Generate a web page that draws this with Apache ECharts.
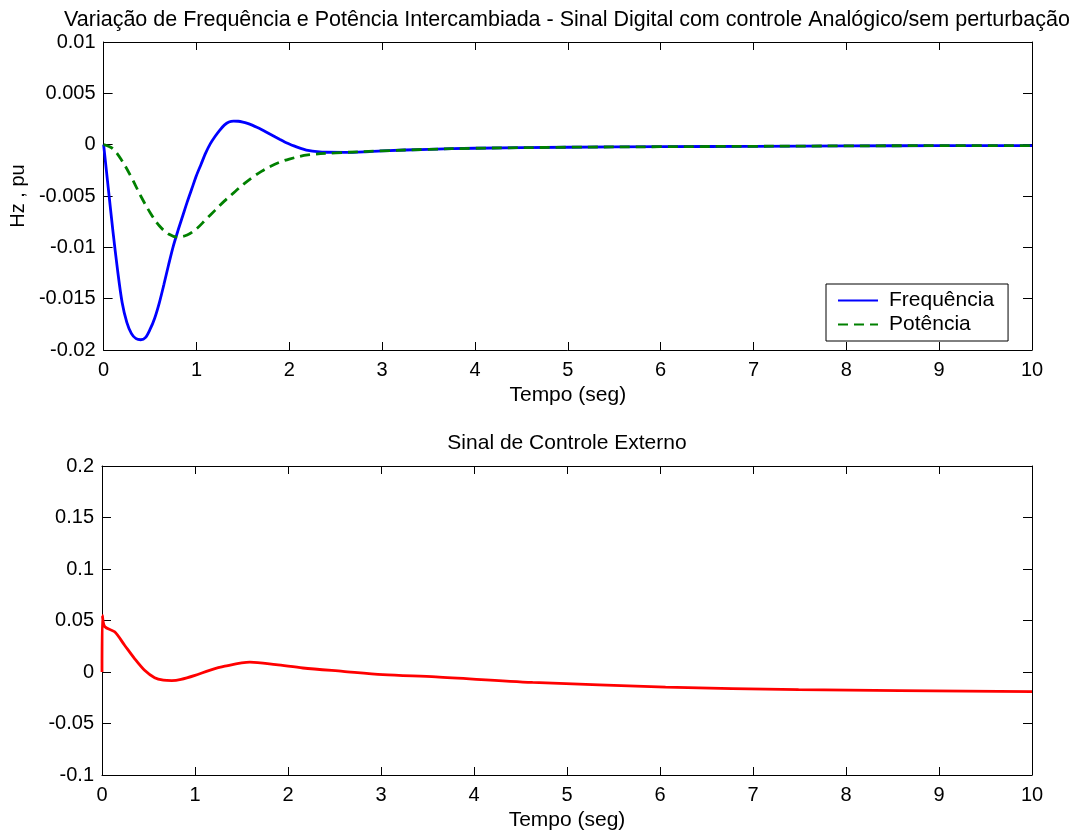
<!DOCTYPE html>
<html>
<head>
<meta charset="utf-8">
<script src="https://cdn.jsdelivr.net/npm/echarts@6/dist/echarts.min.js"></script>
<style>html,body{margin:0;padding:0;background:#fff}#c{width:1080px;height:834px}</style>
</head>
<body>
<div id="c"></div>
<script>
// ---- data ----
const tFreq = [0, 0.05, 0.10, 0.15, 0.20, 0.25, 0.30, 0.35, 0.40, 0.45, 0.50, 0.55, 0.60, 0.65, 0.70, 0.75, 0.80, 0.85, 0.90, 0.95, 1.00, 1.05, 1.10, 1.15, 1.20, 1.25, 1.30, 1.35, 1.40, 1.45, 1.50, 1.55, 1.60, 1.65, 1.70, 1.75, 1.80, 1.85, 1.90, 1.95, 2.00, 2.05, 2.10, 2.15, 2.20, 2.30, 2.40, 2.60, 2.80, 3.0, 3.5, 4, 5, 6, 7, 8, 9, 10];
const vFreq = [0, -0.0042, -0.0084, -0.0122, -0.0154, -0.0173, -0.0184, -0.0189, -0.0190, -0.0188, -0.0180, -0.0169, -0.0154, -0.0136, -0.0117, -0.0099, -0.0084, -0.0070, -0.0056, -0.0043, -0.0030, -0.0019, -0.0008, 0.0001, 0.0008, 0.0014, 0.0019, 0.0022, 0.00229, 0.00228, 0.00220, 0.00207, 0.00190, 0.00170, 0.00148, 0.00124, 0.00099, 0.00074, 0.00050, 0.00027, 0.00007, -0.00012, -0.00029, -0.00043, -0.00055, -0.00068, -0.00074, -0.00075, -0.0007, -0.0006, -0.00045, -0.00035, -0.00025, -0.0002, -0.00016, -0.00012, -0.0001, -0.0001];

const tPot = [0, 0.1, 0.2, 0.3, 0.4, 0.5, 0.6, 0.7, 0.8, 0.9, 1.0, 1.1, 1.2, 1.3, 1.4, 1.5, 1.6, 1.7, 1.8, 1.9, 2.0, 2.2, 2.5, 3.0, 3.5, 4, 5, 6, 7, 8, 9, 10];
const vPot = [0, -0.0004, -0.0016, -0.0032, -0.0050, -0.0066, -0.0079, -0.0087, -0.0090, -0.0088, -0.0082, -0.0073, -0.0064, -0.0055, -0.0047, -0.0039, -0.0032, -0.0026, -0.0021, -0.0017, -0.0014, -0.0010, -0.0008, -0.0006, -0.00045, -0.00035, -0.00025, -0.0002, -0.00016, -0.00012, -0.0001, -0.0001];

const tCtrl = [0, 0.004, 0.03, 0.136, 0.243, 0.35, 0.458, 0.566, 0.66, 0.75, 0.85, 1.0, 1.156, 1.32, 1.59, 1.87, 2.16, 2.59, 3.02, 3.59, 4.63, 6.06, 7.49, 10];
const vCtrl = [0, 0.055, 0.044, 0.039, 0.026, 0.013, 0.0016, -0.0056, -0.0080, -0.0084, -0.0072, -0.0033, 0.0016, 0.0056, 0.0095, 0.0071, 0.0039, 0.0006, -0.0026, -0.0048, -0.0101, -0.0146, -0.0172, -0.0191];

const xTicks = [0, 1, 2, 3, 4, 5, 6, 7, 8, 9, 10];
const yTicksTop = [-0.02, -0.015, -0.01, -0.005, 0, 0.005, 0.01];
const yTicksBottom = [-0.1, -0.05, 0, 0.05, 0.1, 0.15, 0.2];

const seriesNames = ['Frequência', 'Potência', 'Sinal de Controle Externo'];
const mainTitle = 'Variação de Frequência e Potência Intercambiada - Sinal Digital com controle Analógico/sem perturbação';
const subTitle = 'Sinal de Controle Externo';
const xName = 'Tempo (seg)';
const yName = 'Hz , pu';

// ---- chart ----
const FONT = '"Liberation Sans", Arial, sans-serif';
const pairs = (t, v) => t.map((x, i) => [x, v[i]]);
const fmt = v => String(+(+v).toFixed(4));

function xAxisPair(gi) {
  return [
    {
      type: 'value', gridIndex: gi, position: 'bottom',
      min: xTicks[0], max: xTicks[xTicks.length - 1], interval: xTicks[1] - xTicks[0],
      name: xName, nameLocation: 'middle', nameGap: 35,
      nameTextStyle: { fontFamily: FONT, fontSize: 21, color: '#000' },
      axisLine: { show: true, onZero: false, lineStyle: { color: '#000', width: 1 } },
      axisTick: { show: true, inside: true, length: 8, lineStyle: { color: '#000' } },
      axisLabel: { fontFamily: FONT, fontSize: 20, color: '#000', margin: 10, formatter: fmt },
      splitLine: { show: false }
    },
    {
      type: 'value', gridIndex: gi, position: 'top',
      min: xTicks[0], max: xTicks[xTicks.length - 1], interval: xTicks[1] - xTicks[0],
      axisLine: { show: true, onZero: false, lineStyle: { color: '#000', width: 1 } },
      axisTick: { show: true, inside: true, length: 8, lineStyle: { color: '#000' } },
      axisLabel: { show: false }, splitLine: { show: false }
    }
  ];
}
function yAxisPair(gi, ticks, name) {
  const base = {
    type: 'value', gridIndex: gi,
    min: ticks[0], max: ticks[ticks.length - 1], interval: +(ticks[1] - ticks[0]).toFixed(6),
    splitLine: { show: false }
  };
  return [
    Object.assign({}, base, {
      position: 'left',
      name: name || '', nameLocation: 'middle', nameGap: 67, nameRotate: 90,
      nameTextStyle: { fontFamily: FONT, fontSize: 20, color: '#000' },
      axisLine: { show: true, onZero: false, lineStyle: { color: '#000', width: 1 } },
      axisTick: { show: true, inside: true, length: 9, lineStyle: { color: '#000' } },
      axisLabel: { fontFamily: FONT, fontSize: 20, color: '#000', margin: 8, formatter: fmt }
    }),
    Object.assign({}, base, {
      position: 'right',
      axisLine: { show: true, onZero: false, lineStyle: { color: '#000', width: 1 } },
      axisTick: { show: true, inside: true, length: 9, lineStyle: { color: '#000' } },
      axisLabel: { show: false }
    })
  ];
}

const chart = echarts.init(document.getElementById('c'), null, { renderer: 'canvas' });
chart.setOption({
  backgroundColor: '#fff',
  animation: false,
  grid: [
    { left: 102, top: 42, width: 930, height: 308 },
    { left: 102, top: 466, width: 930, height: 309 }
  ],
  xAxis: [...xAxisPair(0), ...xAxisPair(1)],
  yAxis: [...yAxisPair(0, yTicksTop, yName), ...yAxisPair(1, yTicksBottom, '')],
  legend: {
    data: [seriesNames[0], seriesNames[1]],
    orient: 'vertical', left: 826, top: 284,
    backgroundColor: '#fff', borderColor: '#000', borderWidth: 1, borderRadius: 0,
    padding: [6, 14, 6, 11], itemGap: 3, itemWidth: 40, itemHeight: 18,
    itemStyle: { opacity: 0, borderWidth: 0 },
    textStyle: { fontFamily: FONT, fontSize: 21, color: '#000', padding: [0, 0, 0, 6], lineHeight: 20 }
  },
  graphic: [
    { type: 'text', x: 567, y: 20, style: { text: mainTitle, font: '21.5px ' + FONT, fill: '#000', align: 'center', verticalAlign: 'middle' } },
    { type: 'text', x: 567, y: 443, style: { text: subTitle, font: '21px ' + FONT, fill: '#000', align: 'center', verticalAlign: 'middle' } }
  ],
  series: [
    {
      name: seriesNames[0], type: 'line', xAxisIndex: 0, yAxisIndex: 0,
      data: pairs(tFreq, vFreq), showSymbol: false, symbol: 'none',
      smooth: 0.3,
      lineStyle: { color: '#0000ff', width: 2.8 }, itemStyle: { color: '#0000ff' }, z: 3
    },
    {
      name: seriesNames[1], type: 'line', xAxisIndex: 0, yAxisIndex: 0,
      data: pairs(tPot, vPot), showSymbol: false, symbol: 'none',
      smooth: 0.35,
      lineStyle: { color: '#008000', width: 2.8, type: [10, 6] }, itemStyle: { color: '#008000' }, z: 4
    },
    {
      name: seriesNames[2], type: 'line', xAxisIndex: 2, yAxisIndex: 2,
      data: pairs(tCtrl, vCtrl), showSymbol: false, symbol: 'none',
      smooth: 0.3,
      lineStyle: { color: '#ff0000', width: 2.8 }, itemStyle: { color: '#ff0000' }
    }
  ]
});
</script>
</body>
</html>
